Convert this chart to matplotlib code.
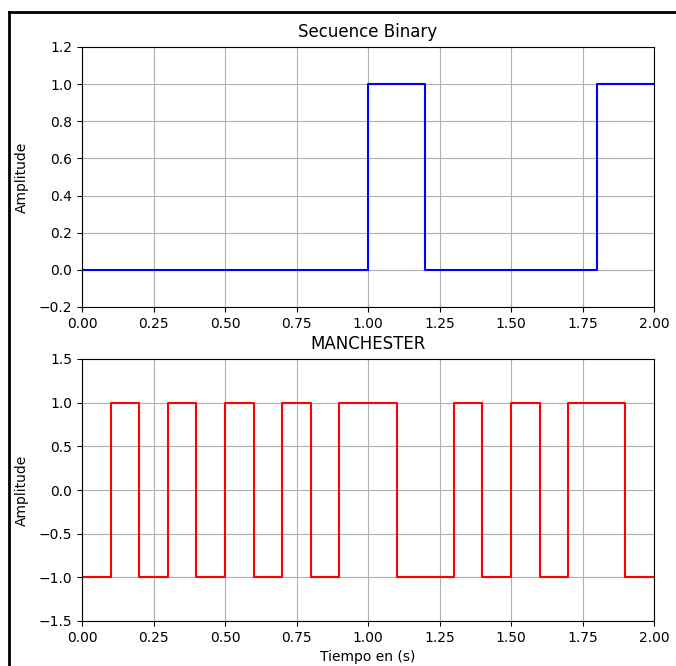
import matplotlib
matplotlib.use("Agg")
import matplotlib.pyplot as plt
from matplotlib.lines import Line2D

# bit sequence, 0.2 s per bit
bit_edges = [0.0, 0.2, 0.4, 0.6, 0.8, 1.0, 1.2, 1.4, 1.6, 1.8, 2.0]
bits = [0, 0, 0, 0, 0, 1, 0, 0, 0, 1, 1]

# manchester levels, one per half bit
half_edges = [0.0, 0.1, 0.2, 0.3, 0.4, 0.5, 0.6, 0.7, 0.8, 0.9, 1.0,
              1.1, 1.2, 1.3, 1.4, 1.5, 1.6, 1.7, 1.8, 1.9, 2.0]
manchester = [-1, 1, -1, 1, -1, 1, -1, 1, -1, 1, 1,
              -1, -1, 1, -1, 1, -1, 1, 1, -1, -1]

W, H = 676, 666
fig = plt.figure(figsize=(W / 100, H / 100), dpi=100)

ax1 = fig.add_axes([82 / W, 1 - 307 / H, (654 - 82) / W, (307 - 47) / H])
ax1.step(bit_edges, bits, where="post", color="blue", linewidth=1.5)
ax1.set_xlim(0, 2)
ax1.set_ylim(-0.2, 1.2)
ax1.set_title("Secuence Binary", pad=7)
ax1.set_ylabel("Amplitude", labelpad=7)
ax1.grid(True)

ax2 = fig.add_axes([82 / W, 1 - 621 / H, (654 - 82) / W, (621 - 359) / H])
ax2.step(half_edges, manchester, where="post", color="red", linewidth=1.5)
ax2.set_xlim(0, 2)
ax2.set_ylim(-1.5, 1.5)
ax2.set_title("MANCHESTER", pad=7)
ax2.set_ylabel("Amplitude", labelpad=7)
ax2.set_xlabel("Tiempo en (s)")
ax2.grid(True)

# screenshot frame (top and left edge)
top = 1 - 12 / H
fig.add_artist(Line2D([9 / W, 1], [top, top], color="black", linewidth=2,
                      transform=fig.transFigure))
fig.add_artist(Line2D([9 / W, 9 / W], [0, top], color="black", linewidth=2,
                      transform=fig.transFigure))

fig.savefig("out.png", dpi=100)
